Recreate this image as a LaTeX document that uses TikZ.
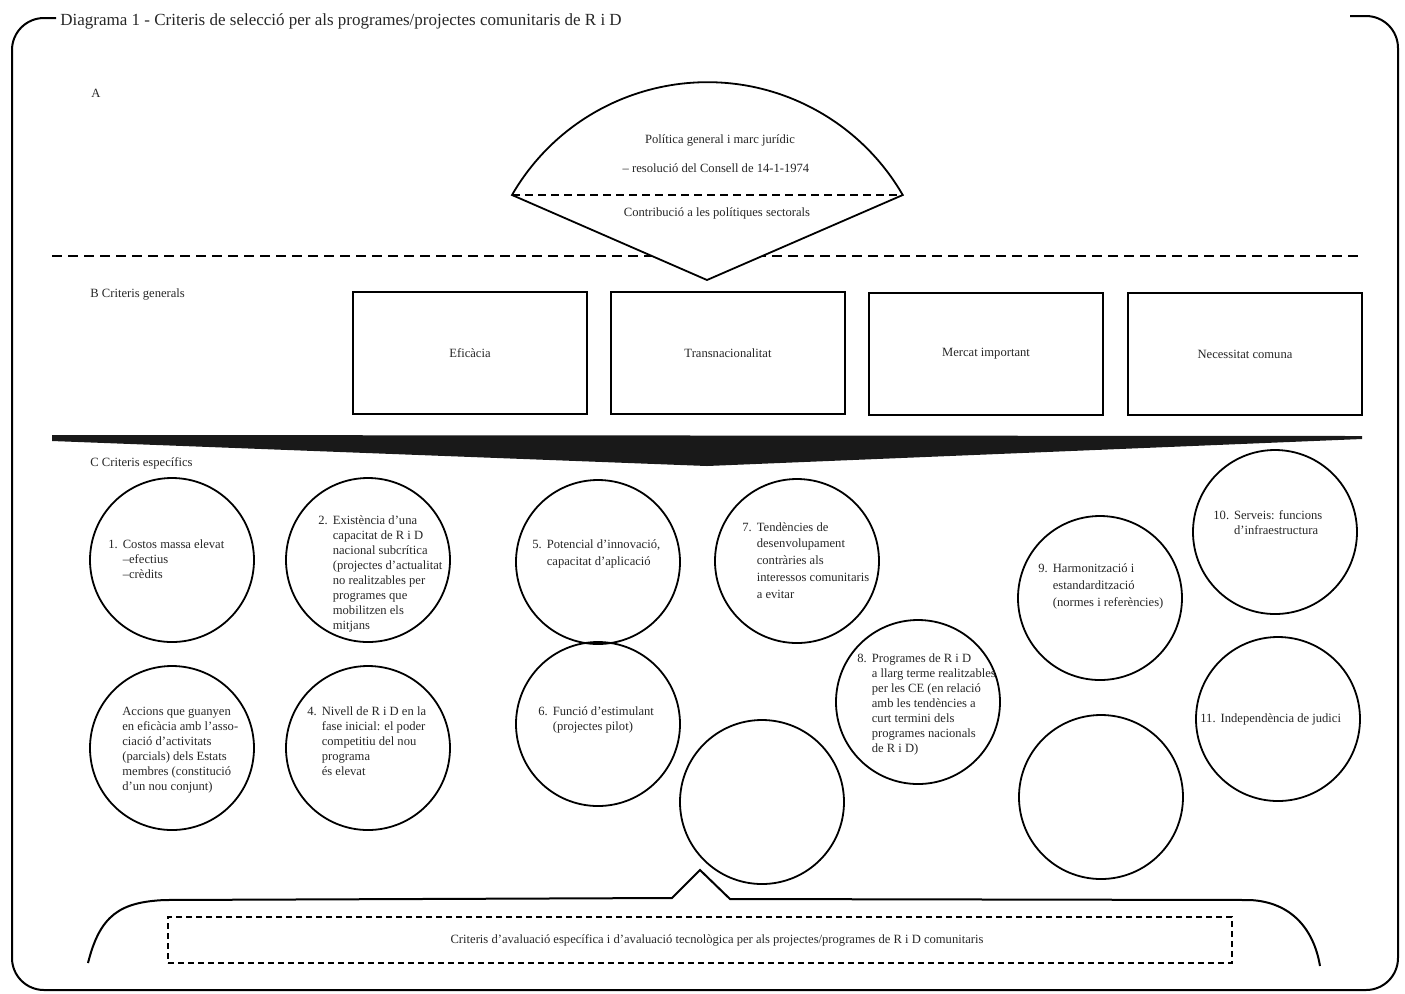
\documentclass[tikz,border=0pt]{standalone}
\usepackage{fontspec}
\setmainfont{Liberation Serif}
\usepackage{tikz}
\usetikzlibrary{positioning}

\newcommand{\numlines}[2]{\begin{tabular}[t]{@{}l@{\hspace{2.5pt}}l@{}}#1 & \begin{tabular}[t]{@{}l@{}}#2\end{tabular}\end{tabular}}
\newcommand{\plainlines}[1]{\begin{tabular}[t]{@{}l@{}}#1\end{tabular}}

\begin{document}
\begin{tikzpicture}[x=0.5pt, y=-0.5pt,
    small/.style={font=\fontsize{6.3}{7.5}\selectfont, text=black!85, inner sep=0pt},
    crit/.style={draw, circle, line width=0.9pt, minimum size=82pt, inner sep=0pt},
    ctext/.style={small, anchor=base west},
    gen/.style={draw, rectangle, line width=0.9pt, minimum width=117pt, minimum height=61pt, small}]
            \useasboundingbox (0,0) rectangle (1405,993);

            % frame and title
            \draw[line width=1pt, rounded corners=16pt] (56,18) -- (12,18) -- (12,990) -- (1398,990) -- (1398,16) -- (1350,16);
            \draw (60,25) node[anchor=base west, inner sep=0pt, font=\fontsize{8.5}{10}\selectfont, text=black!85] (title) {Diagrama 1 - Criteris de selecció per als programes/projectes comunitaris de R i D};

            % A
            \draw (91,97) node[small, anchor=base west] (labA) {A};
            \draw[dashed, dash pattern=on 5pt off 3pt, line width=0.8pt] (52,256) -- (1362,256);
            \draw[fill=white, line width=0.9pt] (512,195) arc[start angle=210, end angle=330, radius=225.6] -- (707,280) -- cycle;
            \draw[dashed, dash pattern=on 4pt off 2.5pt, line width=0.8pt] (512,195) -- (903,195);
            \draw (720,140) node[small] (pol) {Política general i marc jurídic};
            \draw (716,168) node[small] (res) {– resolució del Consell de 14-1-1974};
            \draw (717,213) node[small] (contr) {Contribució a les polítiques sectorals};

            % B
            \draw (90,297) node[small, anchor=base west] (labB) {B Criteris generals};
            \draw (470,353) node[gen] (b1) {Eficàcia};
            \draw (728,353) node[gen] (b2) {Transnacionalitat};
            \draw (986,354) node[gen] (b3) {Mercat important};
            \draw (1245,354) node[gen] (b4) {Necessitat comuna};

            % C
            \fill[black!90] (52,435) -- (1362,436) -- (1362,439) -- (707,466) -- (52,441) -- cycle;
            \draw (90,466) node[small, anchor=base west] (labC) {C Criteris específics};

            \draw (172,560) node[crit] (c1) {};
            \draw (368,560) node[crit] (c2) {};
            \draw (172,748) node[crit] (c3) {};
            \draw (368,748) node[crit] (c4) {};
            \draw (598,562) node[crit] (c5) {};
            \draw (598,724) node[crit] (c6) {};
            \draw (797,561) node[crit] (c7) {};
            \draw (762,802) node[crit] (c7b) {};
            \draw (918,702) node[crit] (c8) {};
            \draw (1100,598) node[crit] (c9) {};
            \draw (1101,797) node[crit] (c9b) {};
            \draw (1275,532) node[crit] (c10) {};
            \draw (1278,719) node[crit] (c11) {};

            \draw (108,548) node[ctext] (t1) {\numlines{1.}{Costos massa elevat\\–efectius\\–crèdits}};
            \draw (318,524) node[ctext] (t2) {\numlines{2.}{Existència d'una\\capacitat de R i D\\nacional subcrítica\\(projectes d'actualitat\\no realitzables per\\programes que\\mobilitzen els\\mitjans}};
            \draw (122,715) node[ctext] (t3) {\plainlines{Accions que guanyen\\en eficàcia amb l'asso-\\ciació d'activitats\\(parcials) dels Estats\\membres (constitució\\d'un nou conjunt)}};
            \draw (307,715) node[ctext] (t4) {\numlines{4.}{Nivell de R i D en la\\fase inicial: el poder\\competitiu del nou\\programa\\és elevat}};
            \draw (532,548) node[ctext] (t5) {\def\arraystretch{1.15}\numlines{5.}{Potencial d'innovació,\\capacitat d'aplicació}};
            \draw (538,715) node[ctext] (t6) {\numlines{6.}{Funció d'estimulant\\(projectes pilot)}};
            \draw (742,531) node[ctext] (t7) {\def\arraystretch{1.13}\numlines{7.}{Tendències de\\desenvolupament\\contràries als\\interessos comunitaris\\a evitar}};
            \draw (857,662) node[ctext] (t8) {\numlines{8.}{Programes de R i D\\a llarg terme realitzables\\per les CE (en relació\\amb les tendències a\\curt termini dels\\programes nacionals\\de R i D)}};
            \draw (1038,572) node[ctext] (t9) {\def\arraystretch{1.15}\numlines{9.}{Harmonització i\\estandardització\\(normes i referències)}};
            \draw (1213,519) node[ctext] (t10) {\numlines{10.}{Serveis: funcions\\d'infraestructura}};
            \draw (1200,722) node[ctext] (t11) {\numlines{11.}{Independència de judici}};

            % evaluation
            \draw[line width=1pt] (88,963) .. controls (100,915) and (120,902) .. (165,900) -- (672,898) -- (700,870) -- (730,899) -- (1250,900) .. controls (1292,902) and (1314,930) .. (1320,966);
            \draw (700,940) node[draw, dashed, dash pattern=on 3pt off 2pt, line width=0.6pt, minimum width=532pt, minimum height=23pt] (eval) {};
            \draw (717,940) node[small] (evaltxt) {Criteris d'avaluació específica i d'avaluació tecnològica per als projectes/programes de R i D comunitaris};

\end{tikzpicture}
\end{document}
